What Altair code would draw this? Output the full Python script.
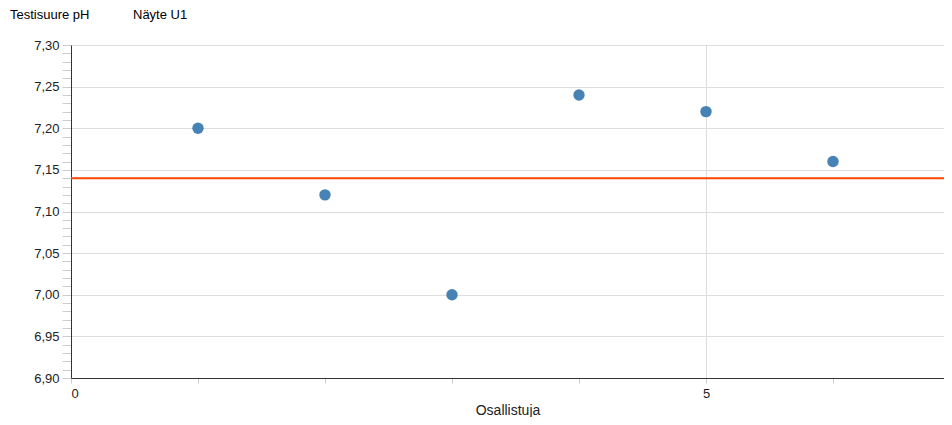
import altair as alt
import pandas as pd

# ---- data ----
participants = [1, 2, 3, 4, 5, 6]
ph_values = [7.20, 7.12, 7.00, 7.24, 7.22, 7.16]
reference_value = [7.14]
x_ticks = [0, 1, 2, 3, 4, 5, 6]
y_ticks = [round(6.90 + 0.01 * i, 2) for i in range(41)]
title_left = ["Testisuure pH"]
title_right = ["Näyte U1"]
x_title = "Osallistuja"

FONT = "Liberation Sans, Arial, sans-serif"

df = pd.DataFrame({"Osallistuja": participants, "pH": ph_values})
ref_df = pd.DataFrame({"ref": reference_value})

x_enc = alt.X(
    "Osallistuja:Q",
    scale=alt.Scale(domain=[0, 6.874], nice=False, zero=False),
    axis=alt.Axis(
        values=x_ticks,
        tickCount=len(x_ticks),
        title=x_title,
        labelExpr="datum.value % 5 === 0 ? datum.label : ''",
        gridOpacity={"condition": {"test": "datum.value % 5 === 0", "value": 1}, "value": 0},
        labelOverlap=False,
        tickSize=5,
        labelPadding=4,
        titlePadding=3,
    ),
)
y_enc = alt.Y(
    "pH:Q",
    scale=alt.Scale(domain=[6.90, 7.30], nice=False, zero=False),
    axis=alt.Axis(
        values=y_ticks,
        tickCount=len(y_ticks),
        title=None,
        labelExpr="round(datum.value*100) % 5 === 0 ? replace(format(datum.value, '.2f'), '.', ',') : ''",
        gridOpacity={"condition": {"test": "round(datum.value*100) % 5 === 0", "value": 1}, "value": 0},
        labelOverlap=False,
        tickSize=9,
        labelPadding=3,
    ),
)

points = alt.Chart(df).mark_circle(size=130, opacity=1, color="#4682b4").encode(x=x_enc, y=y_enc)

rule = alt.Chart(ref_df).mark_rule(color="#FF4500", strokeWidth=2).encode(y=alt.Y("ref:Q"))

t1 = alt.Chart(pd.DataFrame({"t": title_left})).mark_text(
    align="left", baseline="top", fontSize=13, font=FONT, color="#000"
).encode(x=alt.value(-61), y=alt.value(-36), text="t:N")
t2 = alt.Chart(pd.DataFrame({"t": title_right})).mark_text(
    align="left", baseline="top", fontSize=13, font=FONT, color="#000"
).encode(x=alt.value(62), y=alt.value(-36), text="t:N")

chart = (
    alt.layer(rule, points, t1, t2)
    .properties(
        width=873,
        height=333,
        padding={"left": 63, "top": 37, "right": 0, "bottom": 39},
        autosize="none",
    )
    .configure_view(stroke=None)
    .configure_axis(
        labelFont=FONT,
        titleFont=FONT,
        labelFontSize=13,
        titleFontSize=14,
        titleFontWeight="normal",
        labelColor="#222",
        titleColor="#222",
        domainColor="#333",
        tickColor="#ccc",
        gridColor="#ddd",
    )
)

chart.save("out.html", embed_options={"renderer": "svg", "actions": False})
